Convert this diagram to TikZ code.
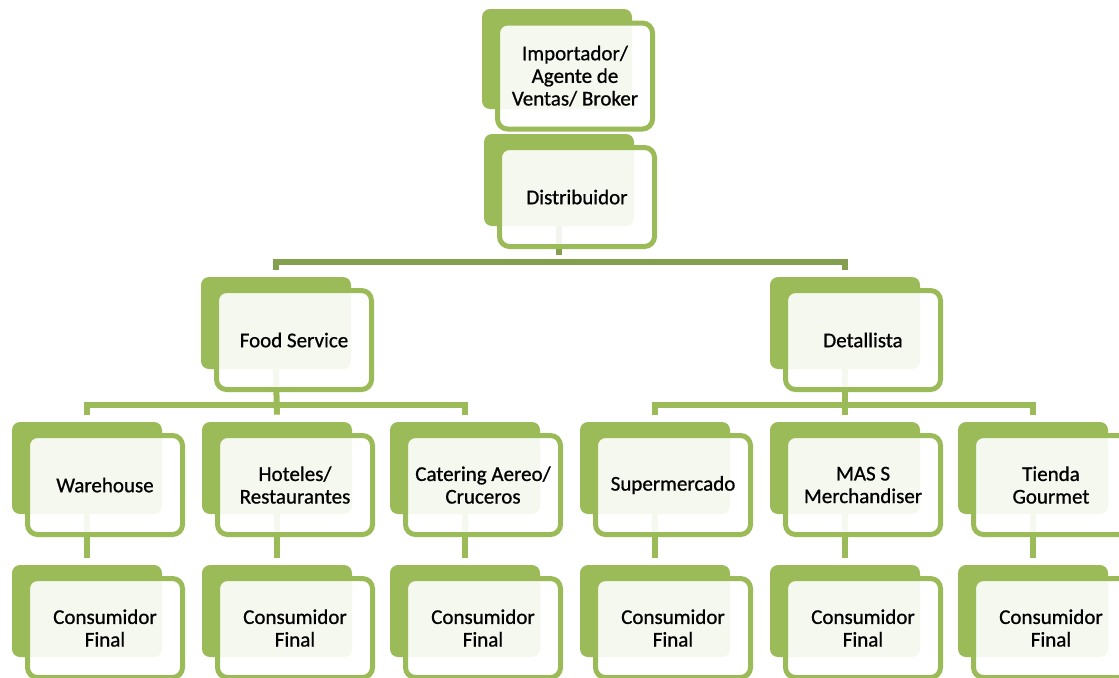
\documentclass[tikz,border=0pt]{standalone}
\usepackage{fontspec}
\setmainfont[FakeBold=0.8]{Carlito}
\usetikzlibrary{backgrounds}
\definecolor{leaf}{HTML}{9BBB59}
\definecolor{stem}{HTML}{84A04E}

\begin{document}
\begin{tikzpicture}[x=0.5pt,y=-0.5pt,
   back/.style={fill=leaf, rounded corners=4pt, minimum width=75pt,
      minimum height=46pt, inner sep=0pt},
   front/.style={draw=leaf, line width=2.5pt, fill=white, fill opacity=.9,
      text opacity=1, rounded corners=5pt, minimum width=77.5pt,
      minimum height=49.5pt, inner sep=1pt, align=center,
      font=\fontsize{10.5}{11.3}\selectfont},
   link/.style={draw=leaf, line width=3pt, shorten >=3.5pt}]
   \useasboundingbox (0,0) rectangle (1119,677);
   % top of the chain
   \node[back, minimum height=50pt] (imp-b) at (557,59) {};
   \node[front, minimum height=53pt] (imp) at ([shift={(18,17)}]imp-b) {Importador/\\Agente de\\Ventas/ Broker};
   \node[back] (dist-b) at (559,180) {};
   \node[front] (dist) at ([shift={(18,17)}]dist-b) {Distribuidor};
   % channels
   \node[back] (fs-b) at (276,323) {};
   \node[front] (fs) at ([shift={(18,17)}]fs-b) {Food Service};
   \node[back] (det-b) at (845,323) {};
   \node[front] (det) at ([shift={(18,17)}]det-b) {Detallista};
   % outlets
   \node[back] (wh-b) at (87,468) {};
   \node[front] (wh) at ([shift={(18,17)}]wh-b) {Warehouse};
   \node[back] (ho-b) at (277,468) {};
   \node[front] (ho) at ([shift={(18,17)}]ho-b) {Hoteles/\\Restaurantes};
   \node[back] (ca-b) at (465,468) {};
   \node[front] (ca) at ([shift={(18,17)}]ca-b) {Catering Aereo/\\Cruceros};
   \node[back] (su-b) at (655,468) {};
   \node[front] (su) at ([shift={(18,17)}]su-b) {Supermercado};
   \node[back] (ma-b) at (845,468) {};
   \node[front] (ma) at ([shift={(18,17)}]ma-b) {MAS S\\Merchandiser};
   \node[back] (ti-b) at (1033,468) {};
   \node[front] (ti) at ([shift={(18,17)}]ti-b) {Tienda\\Gourmet};
   % end consumers
   \foreach \i/\x/\p in {1/87/wh,2/277/ho,3/465/ca,4/655/su,5/845/ma,6/1033/ti} {
      \node[back] (cf\i-b) at (\x,611) {};
      \node[front] (cf\i) at ([shift={(18,17)}]cf\i-b) {Consumidor\\Final};
      \begin{scope}[on background layer]
         \draw[link] (\p-b.south) -- (cf\i-b.north);
      \end{scope}
   }
   \begin{scope}[on background layer]
      \coordinate (bus1) at (559,262);
      \coordinate (bus2) at (277,405);
      \coordinate (bus3) at (845,405);
      \draw[link, draw=stem, line width=2.6pt] (dist-b.south) -- (bus1);
      \draw[link, draw=stem, line width=2.6pt, shorten <=3.5pt] (fs-b.north) |- (bus1) -| (det-b.north);
      \draw[link] (fs-b.south) -- (ho-b.north);
      \draw[link, shorten <=3.5pt] (wh-b.north) |- (bus2) -| (ca-b.north);
      \draw[link] (det-b.south) -- (ma-b.north);
      \draw[link, shorten <=3.5pt] (su-b.north) |- (bus3) -| (ti-b.north);
   \end{scope}
\end{tikzpicture}
\end{document}
